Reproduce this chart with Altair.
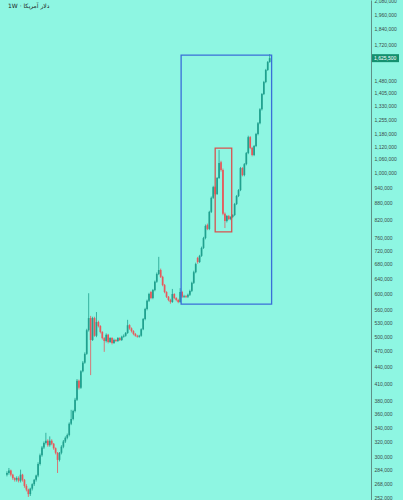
import altair as alt
import pandas as pd

# Weekly candles, prices in thousands
opens = [278, 280, 283, 278, 274, 272, 274, 271, 278, 272, 265, 261, 256, 262, 267, 272, 277, 291, 302, 312,
         318, 321, 315, 321, 317, 311, 305, 296, 305, 313, 320, 325, 329, 345, 352, 364, 382, 414, 402, 431,
         447, 464, 513, 540, 492, 540, 501, 531, 522, 509, 496, 490, 503, 488, 496, 486, 492, 490, 496, 492,
         499, 501, 507, 524, 517, 511, 505, 501, 499, 501, 515, 538, 561, 581, 603, 588, 608, 630, 651, 662,
         643, 621, 603, 591, 583, 578, 598, 588, 583, 578, 603, 591, 593, 591, 596, 606, 627, 656, 697, 685,
         703, 727, 758, 801, 788, 847, 899, 941, 914, 978, 1046, 1012, 840, 815, 832, 822, 829, 836, 876, 906,
         929, 1020, 990, 1037, 1087, 1163, 1111, 1078, 1120, 1178, 1234, 1309, 1396, 1469, 1546, 1599]
closes = [280, 283, 278, 274, 272, 274, 271, 278, 272, 265, 261, 256, 262, 267, 272, 277, 291, 302, 312, 318,
          321, 315, 321, 317, 311, 305, 296, 305, 313, 320, 325, 329, 345, 352, 364, 382, 414, 402, 431, 447,
          464, 513, 540, 492, 540, 501, 531, 522, 509, 496, 490, 503, 488, 496, 486, 492, 490, 496, 492, 499,
          501, 507, 524, 517, 511, 505, 501, 499, 501, 515, 538, 561, 581, 598, 588, 608, 630, 651, 662, 643,
          621, 603, 591, 583, 578, 598, 588, 583, 578, 603, 591, 593, 591, 596, 606, 627, 656, 679, 685, 703,
          727, 758, 798, 788, 847, 899, 941, 914, 978, 1042, 1012, 840, 815, 832, 822, 829, 836, 876, 906, 929,
          1020, 990, 1037, 1087, 1163, 1111, 1078, 1120, 1178, 1234, 1309, 1396, 1469, 1546, 1599, 1625.5]
highs = [282, 286, 284, 279, 275, 276, 276, 284, 279, 273, 267, 262, 263, 268, 273, 278, 293, 304, 314, 320,
         332, 323, 327, 323, 318, 312, 306, 306, 315, 322, 327, 331, 347, 366, 366, 385, 417, 416, 433, 450,
         467, 516, 600, 545, 543, 543, 554, 534, 524, 511, 498, 506, 505, 498, 498, 495, 494, 498, 498, 501,
         504, 509, 536, 526, 519, 513, 507, 503, 503, 517, 540, 564, 584, 601, 606, 611, 633, 655, 700, 666,
         646, 624, 605, 593, 586, 611, 600, 590, 586, 613, 606, 596, 595, 599, 609, 630, 660, 683, 700, 706,
         731, 762, 803, 806, 851, 904, 946, 944, 982, 1101, 1052, 1018, 845, 836, 836, 832, 839, 880, 910, 933,
         1025, 1024, 1042, 1092, 1170, 1168, 1116, 1125, 1184, 1240, 1315, 1402, 1476, 1553, 1606, 1654]
lows = [276, 278, 276, 272, 270, 270, 269, 269, 270, 263, 259, 253, 254, 260, 265, 270, 275, 289, 300, 310,
        316, 313, 313, 315, 309, 303, 280, 294, 303, 311, 318, 323, 327, 343, 350, 362, 380, 399, 400, 429,
        445, 462, 510, 424, 490, 499, 498, 519, 506, 493, 468, 487, 485, 486, 483, 484, 488, 488, 490, 490,
        497, 499, 505, 514, 508, 502, 499, 497, 497, 499, 513, 535, 558, 578, 585, 585, 605, 627, 648, 640,
        618, 600, 588, 580, 574, 576, 585, 580, 575, 576, 588, 588, 588, 588, 593, 603, 624, 653, 680, 682,
        700, 724, 754, 784, 784, 843, 895, 908, 910, 974, 1005, 835, 791, 810, 818, 818, 825, 832, 872, 902,
        925, 985, 985, 1032, 1082, 1105, 1072, 1073, 1115, 1172, 1228, 1302, 1390, 1462, 1540, 1594]

axis_ticks = [252000, 268000, 284000, 300000, 320000, 340000, 360000, 380000, 410000, 440000, 470000,
              500000, 530000, 560000, 600000, 640000, 680000, 720000, 760000, 820000, 880000, 940000,
              1000000, 1060000, 1120000, 1180000, 1255000, 1330000, 1405000, 1480000,
              1720000, 1840000, 1960000, 2080000]

last_price = 1625500

# annotation boxes: (start week, end week, top price, bottom price, colour)
box_start = [89.5, 107]
box_end = [136, 115.5]
box_top = [1647000, 1110000]
box_bottom = [573000, 778000]
box_color = ["#3a6ed8", "#d9524f"]

title_text = "1W · دلار آمریکا"

BG = "#8ef6e2"
UP = "#20a08e"
DOWN = "#e8575a"

n = len(closes)
df = pd.DataFrame({
    "week": list(range(n)),
    "open": [v * 1000 for v in opens],
    "close": [v * 1000 for v in closes],
    "high": [v * 1000 for v in highs],
    "low": [v * 1000 for v in lows],
})
boxes = pd.DataFrame({"x1": box_start, "x2": box_end, "top": box_top,
                      "bottom": box_bottom, "color": box_color})

xscale = alt.Scale(domain=[-1, 184.5], nice=False, zero=False)
yscale = alt.Scale(type="log", domain=[249700, 2080000], nice=False, zero=False)

color = alt.condition("datum.close >= datum.open", alt.value(UP), alt.value(DOWN))

base = alt.Chart(df).encode(x=alt.X("week:Q", scale=xscale, axis=None))

wicks = base.mark_rule(strokeWidth=0.8).encode(
    y=alt.Y("low:Q", scale=yscale,
            axis=alt.Axis(orient="right", values=axis_ticks, format=",d", title=None,
                          grid=False, ticks=False, domain=True, domainColor="#5f8f88",
                          domainWidth=1, labelFontSize=5, labelColor="#3b4a48",
                          labelFont="Liberation Sans", labelPadding=3, labelOverlap=False,
                          labelBound=False, labelFlush=False)),
    y2="high:Q",
    color=color,
)
bodies = base.mark_bar(size=1.7).encode(
    y=alt.Y("open:Q", scale=yscale),
    y2="close:Q",
    color=color,
)

rects = alt.Chart(boxes).mark_rect(fill=None, strokeWidth=1.3).encode(
    x=alt.X("x1:Q", scale=xscale), x2="x2:Q",
    y=alt.Y("top:Q", scale=yscale), y2="bottom:Q",
    stroke=alt.Stroke("color:N", scale=None),
)

lp = pd.DataFrame({"price": [last_price]})
label_box = alt.Chart(lp).mark_tick(orient="horizontal", size=27, thickness=8, color="#14906f",
                                    opacity=1).encode(
    x=alt.value(385.5), y=alt.Y("price:Q", scale=yscale))
label_text = alt.Chart(lp).mark_text(fontSize=5, color="white", align="left", baseline="middle",
                                     font="Liberation Sans").encode(
    x=alt.value(374), y=alt.Y("price:Q", scale=yscale), text=alt.Text("price:Q", format=",d"))

title = alt.Chart(pd.DataFrame({"t": [title_text]})).mark_text(
    fontSize=6, color="#222222", align="left", baseline="middle", font="DejaVu Sans").encode(
    x=alt.value(8), y=alt.value(6), text="t:N")

chart = alt.layer(wicks, bodies, rects, label_box, label_text, title).properties(
    width=371, height=500,
    background=BG,
    padding={"left": 0, "top": 0, "right": 32, "bottom": 0},
    autosize=alt.AutoSizeParams(type="none"),
).configure_view(stroke=None, fill=BG)

chart.save("out.html", embed_options={"renderer": "svg", "actions": False})
